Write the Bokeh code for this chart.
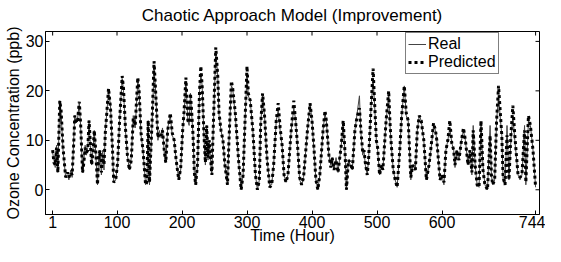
from bokeh.plotting import figure
from bokeh.models import FixedTicker, Range1d, Legend, LegendItem, ColumnDataSource
from bokeh.embed import file_html
from bokeh.resources import INLINE

hours = [1, 3, 5, 7, 9, 12, 14, 17, 21, 24,
         26, 29, 31, 34, 35, 37, 39, 42, 44, 47,
         49, 51, 53, 55, 57, 59, 61, 63, 65, 67, 70, 72,
         74, 76, 78, 80, 82, 84, 87, 90, 93, 95,
         98, 101, 104, 108, 110, 113, 116, 119,
         122, 125, 128, 132, 134, 137, 140, 144,
         146, 148, 150, 154, 157, 159, 163, 165, 168,
         170, 173, 175, 178, 182, 185, 188, 191,
         195, 198, 201, 203, 206, 209, 211, 213, 215,
         217, 219, 221, 224, 227, 229, 231, 234, 236, 238, 240,
         242, 245, 246, 247, 250, 252, 255, 257, 260, 263,
         266, 270, 272, 276, 278, 282, 287,
         291, 294, 297, 300, 302, 305, 309, 313,
         316, 319, 321, 324, 327, 329, 331, 335,
         338, 341, 345, 348, 351, 354, 357, 360,
         363, 368, 372, 375, 378, 381, 384,
         387, 393, 397, 400, 403, 406, 409,
         412, 417, 420, 422, 426, 429, 431,
         434, 437, 440, 445, 448, 451, 453, 456,
         459, 462, 466, 469, 473, 475, 478, 480,
         482, 485, 487, 491, 494, 496, 499, 501, 504,
         507, 509, 514, 518, 520, 522, 525, 528,
         531, 535, 538, 542, 545, 548, 552, 555,
         559, 562, 565, 568, 572, 576, 580,
         583, 587, 590, 592, 597, 600,
         603, 606, 609, 612, 615, 618, 620, 623, 626,
         630, 633, 636, 640, 643, 646, 648, 651,
         654, 657, 660, 663, 666, 670, 674, 676,
         678, 681, 684, 687, 690, 692, 694, 697,
         700, 703, 706, 709, 712, 717, 720,
         723, 727, 729, 733, 736, 740, 744]

real = [7.5, 6, 4.5, 9, 3.5, 18, 15.5, 8, 2.5, 3,
        2, 4, 2.5, 12, 15, 13.5, 14, 17.5, 13, 3.5,
        6, 9, 7, 8.5, 14, 9, 5, 8, 12, 8, 1, 7.5,
        8, 3, 8, 4, 12, 15, 20, 17, 8, 1.5,
        2, 5, 14, 22.5, 20, 12, 7, 4,
        6.5, 15, 12.5, 22, 20, 11, 8, 1,
        1.5, 14, 1, 13.5, 24.5, 21, 10, 12, 10.5,
        12.5, 7, 5.5, 12.5, 15, 11, 10, 6,
        2, 4, 12, 15, 22, 14, 13, 19.5, 15,
        11, 3, 1, 5, 20, 23.5, 21, 10, 5, 13, 6,
        10, 4, 3, 8, 20, 28, 23, 15, 12, 10,
        5, 1, 9, 21, 20.5, 15, 6,
        0, 3, 14, 23.5, 19, 18, 12, 3,
        0, 2, 13, 19, 15, 10, 6, 1,
        1, 5, 14, 16, 12, 9, 3, 1.5,
        3, 12, 16.5, 14, 8, 2, 1,
        2.5, 12, 17.5, 14, 8, 2, 0,
        3, 12, 15.5, 14, 7, 5, 6.5,
        4, 6.5, 3.5, 9, 13.5, 7, 0, 6,
        5, 4, 12, 15, 19, 12, 7, 8,
        5, 3, 6, 17, 22.5, 18, 10, 8, 3,
        5, 4, 14, 19, 13, 9, 4, 2,
        0.5, 8, 15, 21, 15, 14, 2, 5,
        4, 12, 15, 14, 10, 2, 5,
        8, 13, 12, 10, 2, 3,
        1, 8, 10, 12.5, 9.5, 8, 4.5, 8, 6,
        10, 12, 10, 5, 8, 3, 13, 5,
        1, 0.5, 13, 5, 1, 0, 13, 3,
        1, 2, 14, 19, 14, 11, 2, 1,
        13, 2, 10, 15, 10, 3, 2,
        3, 13, 1, 14, 13, 8, 0.5]

predicted = [8, 5.5, 5, 8.5, 3.5, 18, 16, 8.5, 2.5, 3.5,
             2.5, 3.5, 3, 11, 15, 14, 13.5, 17.8, 13.5, 3.5,
             5.5, 8.5, 7.5, 8, 14, 9.5, 5, 7.5, 12, 8.5, 1, 7,
             8, 3.5, 7, 5, 11.5, 15, 20.5, 16.5, 8.5, 1.5,
             2, 5.5, 14, 23, 20.5, 12.5, 7, 4,
             6, 14.5, 13, 22.7, 20, 11.5, 8, 1,
             1.5, 14, 1.5, 14, 26, 21, 10.5, 11.5, 11,
             12, 7.5, 5.5, 12, 15.5, 11.5, 10, 6,
             2, 4.5, 12, 15.5, 22.7, 14, 13.5, 19.5, 15.5,
             11, 3.5, 1, 5.5, 20, 25, 21, 10.5, 5.5, 13, 6.5,
             10, 4.5, 3, 8, 20.5, 28.8, 23, 15.5, 12, 10,
             5, 1, 9, 22, 20.5, 15.5, 6,
             0, 3, 14, 25, 19.5, 18, 12, 3,
             0, 2, 13, 19.5, 15, 10.5, 6, 0.5,
             1, 5, 14, 17.5, 12.5, 9, 3, 1.5,
             3, 12, 18, 13.5, 8.5, 2.5, 1,
             2.5, 12, 17.5, 14, 8.5, 2, 0,
             3, 12, 16, 14, 7, 4.5, 6.5,
             4, 6, 3.5, 9, 14, 7, 0, 6,
             5.5, 4, 12, 14.5, 16.5, 12.5, 7.5, 8,
             5.5, 3, 6, 17, 24.5, 18.5, 10, 8.5, 3,
             5, 4, 14, 20, 13.5, 9, 4, 2,
             0.5, 8, 15, 21, 15.5, 14, 2.5, 5,
             4, 12, 15, 14, 10, 2, 5,
             8.5, 13.5, 12, 10, 2, 3,
             1.5, 8, 10, 14, 9.5, 8, 5, 8, 6,
             10, 12.5, 10, 5, 8, 3.5, 12, 5,
             1, 0.5, 14, 4, 1, 0, 11, 3,
             1, 2, 14, 21, 15, 11, 2.5, 1,
             11, 2, 11, 17, 11, 3, 2.5,
             3, 12, 1.5, 15, 13, 8, 0.5]

x_ticks = [1, 100, 200, 300, 400, 500, 600, 744]
y_ticks = [0, 10, 20, 30]
title_text = "Chaotic Approach Model (Improvement)"

FONT = "Liberation Sans"
X0, X1, Y0, Y1 = -10, 750, -5, 32
W, H = 545, 246
BL, BR, BT, BB = 45, 6, 30, 35
FW, FH = W - BL - BR, H - BT - BB
px_x = (X1 - X0) / FW   # data units per pixel
px_y = (Y1 - Y0) / FH

src = ColumnDataSource(dict(h=hours, real=real, pred=predicted))

p = figure(width=W, height=H, output_backend="svg", toolbar_location=None,
           x_range=Range1d(X0, X1), y_range=Range1d(Y0, Y1),
           min_border_left=BL, min_border_right=BR, min_border_top=28, min_border_bottom=31,
           x_axis_label="Time (Hour)", y_axis_label="Ozone Concentration (ppb)",
           title=title_text)

r1 = p.line("h", "real", source=src, line_color="#444444", line_width=1)
r2 = p.line("h", "pred", source=src, line_color="black", line_width=3,
            line_dash="3 3", line_cap="butt")

# mirrored inward ticks on the top and right edges (box on)
tick_len = 4
p.segment(x0=x_ticks, x1=x_ticks, y0=[Y1] * len(x_ticks),
          y1=[Y1 - tick_len * px_y] * len(x_ticks), line_color="black", line_width=1)
p.segment(x0=[X1] * len(y_ticks), x1=[X1 - tick_len * px_x] * len(y_ticks),
          y0=y_ticks, y1=y_ticks, line_color="black", line_width=1)

p.xgrid.visible = False
p.ygrid.visible = False
p.outline_line_color = "black"
p.outline_line_width = 1
p.outline_line_alpha = 1
p.background_fill_color = "white"
p.border_fill_color = "white"

p.title.text_font = FONT
p.title.text_font_size = "17px"
p.title.text_font_style = "normal"
p.title.align = "center"
p.title.vertical_align = "top"
p.title.text_color = "black"

for ax in (p.xaxis[0], p.yaxis[0]):
    ax.major_label_text_font = FONT
    ax.major_label_text_font_size = "16px"
    ax.major_label_text_color = "black"
    ax.axis_label_text_font = FONT
    ax.axis_label_text_font_size = "16px"
    ax.axis_label_text_font_style = "normal"
    ax.axis_label_text_color = "black"
    ax.major_tick_in = tick_len
    ax.major_tick_out = 0
    ax.minor_tick_line_color = None
    ax.axis_line_color = "black"
    ax.major_tick_line_color = "black"

p.xaxis[0].ticker = FixedTicker(ticks=x_ticks)
p.yaxis[0].ticker = FixedTicker(ticks=y_ticks)
p.xaxis[0].major_label_standoff = 1
p.xaxis[0].axis_label_standoff = -4
p.yaxis[0].major_label_standoff = 2
p.yaxis[0].axis_label_standoff = 1

legend = Legend(items=[LegendItem(label="Real", renderers=[r1]),
                       LegendItem(label="Predicted", renderers=[r2])],
                location=(360, 140))
legend.border_line_color = "black"
legend.border_line_width = 1
legend.padding = 2
legend.spacing = 0
legend.margin = 0
legend.glyph_width = 18
legend.glyph_height = 18
legend.label_standoff = 2
legend.label_height = 18
legend.label_text_font = FONT
legend.label_text_font_size = "16px"
legend.label_text_color = "black"
legend.background_fill_color = "white"
legend.background_fill_alpha = 1
p.add_layout(legend)

open("out.html", "w").write(file_html(p, INLINE))
